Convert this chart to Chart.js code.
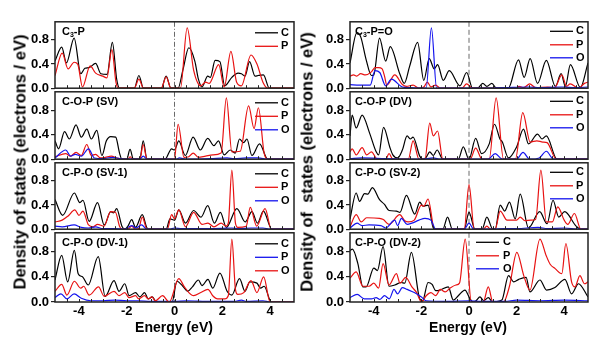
<!DOCTYPE html>
<html>
<head>
<meta charset="utf-8">
<script src="https://cdn.jsdelivr.net/npm/chart.js@4.4.1/dist/chart.umd.min.js"></script>
<style>
body { margin: 0; background: #fff; }
#wrap { position: relative; width: 600px; height: 351px; overflow: hidden; font-family: Arial, "Liberation Sans", sans-serif; }
#wrap canvas { position: absolute; }
.lab { position: absolute; font-weight: bold; color: #000; white-space: pre; z-index: 5; }
</style>
</head>
<body>
<div id="wrap">
  <div class="lab" style="left:20px;top:162px;font-size:16.5px;transform:translate(-50%,-50%) rotate(-90deg)">Density of states (electrons / eV)</div>
  <div class="lab" style="left:307px;top:162px;font-size:16.5px;transform:translate(-50%,-50%) rotate(-90deg)">Density of  states (electrons / eV)</div>
  <div class="lab" style="left:174px;top:327px;font-size:14px;transform:translate(-50%,-50%)">Energy (eV)</div>
  <div class="lab" style="left:468px;top:327px;font-size:14px;transform:translate(-50%,-50%)">Energy (eV)</div>
</div>
<script>
// energy (eV), DOS (electrons / eV) pairs
const X_TICKS = [-4, -2, 0, 2, 4];
const Y_TICKS = [0, 0.4, 0.8];

// C3-P
const L1_C = [[-5,0.45],[-4.72,0.68],[-4.52,0.42],[-4.2,0.83],[-3.92,0.24],[-3.75,0.33],[-3.58,0.34],[-3.3,0.41],[-3.08,0.24],[-2.82,0.23],[-2.6,0.76],[-2.42,0.15],[-2.3,0],[-1.68,0],[-1.49,0.21],[-1.3,0],[-0.55,0],[-0.35,0.2],[-0.15,0],[0.15,0],[0.35,0.3],[0.6,0.67],[0.85,0.45],[1.0,0.15],[1.15,0.02],[1.39,0.2],[1.5,0.18],[1.7,0.46],[1.9,0.44],[2.1,0.04],[2.4,0.18],[2.66,0.25],[2.8,0.24],[2.95,0.2],[3.14,0.44],[3.37,0.2],[3.5,0.21],[3.72,0.22],[3.97,0],[5,0]];
const L1_P = [[-5,0.21],[-4.7,0.58],[-4.45,0.32],[-4.2,0.43],[-4.05,0.4],[-3.85,0.02],[-3.53,0.37],[-3.3,0.25],[-3.0,0.2],[-2.83,0.17],[-2.62,0.64],[-2.45,0.1],[-2.35,0],[-1.68,0],[-1.49,0.15],[-1.3,0],[-0.55,0],[-0.35,0.19],[-0.15,0],[0.25,0],[0.53,1.0],[0.8,0.3],[1.1,0.04],[1.3,0.1],[1.45,0.08],[1.85,0.39],[2.08,0.02],[2.36,0.61],[2.6,0.1],[2.8,0.04],[3.2,0.55],[3.45,0.4],[3.7,0.1],[3.9,0],[5,0]];

// C-O-P (SV)
const L2_C = [[-5,0.3],[-4.85,0.17],[-4.6,0.45],[-4.4,0.33],[-4.12,0.56],[-3.9,0.36],[-3.67,0.49],[-3.48,0.33],[-3.25,0.47],[-3.04,0.06],[-2.85,0.3],[-2.67,0.37],[-2.46,0.36],[-2.3,0.1],[-2.2,0],[-2.0,0],[-1.86,0.16],[-1.72,0],[-1.45,0],[-1.31,0.3],[-1.15,0],[-0.4,0],[-0.12,0.17],[0.0,0.15],[0.18,0.3],[0.45,0.06],[0.78,0.36],[1.08,0.15],[1.39,0.34],[1.65,0.22],[1.84,0.3],[2.08,0.07],[2.33,0.15],[2.54,0.1],[2.72,0.33],[2.89,0.27],[3.03,0.33],[3.24,0.06],[3.56,0.25],[3.9,0],[5,0]];
const L2_P = [[-5,0.04],[-4.55,0.09],[-4.35,0.05],[-4.12,0.11],[-3.9,0.06],[-3.67,0.24],[-3.48,0.06],[-3.3,0.08],[-3.1,0.02],[-2.9,0.03],[-2.65,0.05],[-2.4,0.02],[-2.2,0],[-1.95,0],[-1.86,0.04],[-1.75,0],[-1.45,0],[-1.31,0.24],[-1.15,0],[0.0,0],[0.15,0.57],[0.4,0.03],[0.6,0.04],[0.78,0.1],[1.0,0.03],[1.3,0.05],[1.6,0.07],[1.95,0.1],[2.17,1.0],[2.4,0.12],[2.75,0.13],[3.1,0.87],[3.33,0.5],[3.51,0.84],[3.75,0.1],[3.9,0],[5,0]];
const L2_O = [[-5,0.02],[-4.55,0.15],[-4.35,0.05],[-4.15,0.08],[-3.9,0.05],[-3.6,0.17],[-3.35,0.02],[-3.0,0.01],[-2.6,0.03],[-2.3,0.01],[-2.0,0],[-1.45,0],[-1.31,0.05],[-1.15,0],[0.1,0],[0.2,0.02],[0.5,0],[1.5,0.01],[2.2,0.02],[2.5,0.01],[3.0,0.02],[3.5,0.02],[3.9,0],[5,0]];

// C-P-O (SV-1)
const L3_C = [[-5,0.49],[-4.68,0.23],[-4.19,0.6],[-3.96,0.44],[-3.83,0.48],[-3.57,0.13],[-3.22,0.44],[-2.94,0.07],[-2.67,0.29],[-2.55,0.27],[-2.42,0.34],[-2.2,0.05],[-2.08,0],[-1.95,0.05],[-1.79,0.16],[-1.63,0.03],[-1.35,0.24],[-1.15,0.02],[-1.05,0],[-0.35,0],[-0.19,0.17],[0,0.15],[0.18,0.32],[0.46,0.1],[0.8,0.31],[1.11,0.2],[1.39,0.39],[1.67,0.1],[1.92,0.28],[2.17,0.03],[2.61,0.34],[2.96,0.12],[3.24,0.29],[3.47,0.1],[3.72,0.3],[4.07,0],[5,0]];
const L3_P = [[-5,0.12],[-4.7,0.15],[-4.45,0.22],[-4.17,0.32],[-4.0,0.23],[-3.83,0.3],[-3.6,0.07],[-3.4,0.04],[-3.22,0.08],[-2.95,0.05],[-2.67,0.29],[-2.47,0.28],[-2.3,0.05],[-2.2,0],[-1.95,0],[-1.79,0.05],[-1.65,0],[-1.5,0.01],[-1.35,0.2],[-1.15,0],[-0.3,0],[-0.12,0.24],[0.0,0.17],[0.18,0.32],[0.46,0.04],[0.8,0.28],[1.15,0.08],[1.4,0.1],[1.65,0.04],[1.95,0.1],[2.15,0.05],[2.25,0.1],[2.4,0.98],[2.55,0.1],[2.65,0.03],[3.0,0.05],[3.17,0.36],[3.44,0.05],[3.79,0.34],[4.05,0],[5,0]];
const L3_O = [[-5,0.05],[-4.7,0.04],[-4.2,0.07],[-3.9,0.03],[-3.6,0.02],[-3.3,0.04],[-3.0,0.01],[-2.5,0.01],[-2.1,0],[-1.79,0.06],[-1.62,0.02],[-1.38,0.07],[-1.15,0],[-0.2,0],[0,0.02],[0.3,0.01],[1.0,0.01],[1.5,0.01],[2.4,0.02],[2.7,0.01],[3.2,0.02],[3.7,0.02],[4.0,0],[5,0]];

// C-P-O (DV-1)
const L4_C = [[-5,0.35],[-4.72,0.74],[-4.47,0.32],[-4.19,0.82],[-4.03,0.45],[-3.85,0.4],[-3.61,0.27],[-3.19,0.72],[-2.9,0.09],[-2.53,0.34],[-2.32,0.17],[-2.08,0.29],[-1.9,0.1],[-1.63,0.15],[-1.45,0.08],[-1.25,0.15],[-1.1,0.05],[-0.93,0.08],[-0.75,0],[-0.1,0],[0.1,0.33],[0.35,0.25],[0.55,0.17],[0.75,0.24],[1.0,0.35],[1.15,0.26],[1.4,0.36],[1.6,0.22],[1.9,0.46],[2.2,0.17],[2.4,0.11],[2.72,0.37],[2.95,0.17],[3.15,0.32],[3.45,0.3],[3.6,0.22],[3.75,0.25],[4.05,0],[5,0]];
const L4_P = [[-5,0.07],[-4.75,0.13],[-4.5,0.05],[-4.2,0.13],[-3.9,0.06],[-3.5,0.02],[-3.0,0.02],[-2.5,0.03],[-2.0,0.02],[-1.5,0.02],[-1.0,0.01],[-0.5,0.01],[0,0.01],[0.5,0.02],[1.5,0.01],[2.5,0.01],[2.8,0.03],[3.0,0.01],[3.7,0.02],[4.0,0],[5,0]];
const L4_O = [[-5,0.17],[-4.72,0.28],[-4.5,0.11],[-4.19,0.33],[-3.92,0.22],[-3.8,0.25],[-3.57,0.11],[-3.18,0.24],[-2.94,0.09],[-2.53,0.17],[-2.32,0.1],[-2.08,0.15],[-1.9,0.07],[-1.63,0.1],[-1.5,0.05],[-1.25,0.1],[-1.1,0.05],[-0.95,0.08],[-0.8,0.02],[-0.5,0.1],[-0.22,0],[0.18,0.37],[0.4,0.25],[0.6,0.15],[0.8,0.1],[1.1,0.15],[1.4,0.2],[1.6,0.1],[1.8,0.05],[2.1,0.05],[2.25,0.1],[2.4,1.0],[2.55,0.2],[2.65,0.12],[2.9,0.15],[3.2,0.34],[3.45,0.15],[3.73,0.4],[4.0,0],[5,0]];

// C3-P=O
const R1_C = [[-5,0.42],[-4.71,0.92],[-4.55,0.85],[-4.32,0.47],[-4.1,0.21],[-4.0,0.22],[-3.76,0.83],[-3.5,0.45],[-3.31,0.69],[-2.91,0.24],[-2.72,0.08],[-2.49,0.37],[-2.16,0.76],[-1.9,0.13],[-1.67,0.49],[-1.46,0.32],[-1.32,0.39],[-1.08,0.13],[-0.83,0.29],[-0.38,0.04],[-0.1,0.26],[0.15,0],[0.35,0],[0.58,0.08],[0.75,0.03],[0.96,0.08],[1.15,0],[1.65,0],[2.08,0.47],[2.32,0.18],[2.57,0.49],[2.88,0.08],[3.25,0.46],[3.63,0.03],[3.87,0.24],[4.05,0.03],[4.26,0.39],[4.68,0.01],[5,0.42]];
const R1_P = [[-5,0.2],[-4.85,0.22],[-4.72,0.2],[-4.55,0.24],[-4.35,0.22],[-4.1,0.27],[-3.95,0.34],[-3.8,0.34],[-3.65,0.32],[-3.55,0.2],[-3.45,0.05],[-3.12,0.22],[-2.8,0.06],[-2.63,0.03],[-2.35,0.05],[-2.1,0],[-1.9,0.02],[-1.75,0.1],[-1.6,0.02],[-1.4,0.05],[-1.2,0],[-0.3,0],[-0.1,0.07],[0.15,0],[2.0,0],[2.1,0.03],[2.3,0.01],[2.55,0.07],[2.8,0.01],[3.3,0.02],[3.6,0.01],[3.9,0.22],[4.1,0.03],[4.25,0.07],[4.6,0],[4.85,0.08],[5,0.1]];
const R1_O = [[-5,0.06],[-4.6,0.05],[-4.15,0.05],[-3.95,0.29],[-3.75,0.26],[-3.5,0.04],[-3.26,0.15],[-2.8,0.02],[-2.5,0.01],[-2.0,0],[-1.8,0],[-1.58,1.0],[-1.36,0],[0.5,0],[1.5,0.01],[2.5,0.02],[3.0,0.01],[3.9,0.02],[4.5,0.01],[5,0.02]];

// C-O-P (DV)
const R2_C = [[-5,0.38],[-4.91,0.72],[-4.74,0.51],[-4.49,0.72],[-4.18,0.43],[-3.9,0.12],[-3.8,0.07],[-3.59,0.52],[-3.33,0.2],[-3.2,0.07],[-3.0,0.02],[-2.8,0.15],[-2.6,0.38],[-2.47,0.33],[-2.35,0.36],[-2.07,0.05],[-1.95,0],[-1.8,0.03],[-1.65,0.12],[-1.5,0.06],[-1.34,0.15],[-1.1,0],[-0.45,0],[-0.24,0.2],[0.0,0],[0.28,0.34],[0.53,0.09],[0.85,0.25],[1.07,0.57],[1.3,0.33],[1.4,0.28],[1.66,0.02],[2.0,0.2],[2.29,0.49],[2.5,0.25],[2.88,0.41],[3.07,0.33],[3.25,0.38],[3.7,0],[5,0]];
const R2_P = [[-5,0.12],[-4.91,0.17],[-4.74,0.07],[-4.49,0.19],[-4.3,0.07],[-4.1,0.12],[-3.85,0],[-3.5,0],[-3.36,0.09],[-3.2,0],[-2.55,0],[-2.35,0.3],[-2.1,0],[-1.85,0],[-1.65,0.59],[-1.5,0.38],[-1.32,0.46],[-1.1,0],[0.05,0],[0.28,0.18],[0.55,0],[0.85,0],[1.14,1.0],[1.45,0],[1.95,0],[2.26,0.76],[2.57,0.28],[2.85,0.3],[3.1,0.28],[3.28,0.27],[3.67,0],[5,0]];
const R2_O = [[-5,0.01],[-4.5,0.02],[-3.5,0.01],[-2,0],[-1.5,0.02],[-1.2,0],[0.8,0],[1.1,0.09],[1.4,0],[2.0,0],[2.27,0.11],[2.55,0],[2.95,0.02],[3.25,0.13],[3.55,0],[5,0]];

// C-P-O (SV-2)
const R3_C = [[-5,0.17],[-4.74,0.6],[-4.6,0.46],[-4.39,0.59],[-4.25,0.58],[-4.06,0.69],[-3.76,0.49],[-3.55,0.41],[-3.36,0.31],[-3.05,0.3],[-2.9,0.28],[-2.63,0.56],[-2.28,0.25],[-2.07,0.45],[-1.93,0.38],[-1.72,0.4],[-1.5,0.02],[-1.4,0],[-1.1,0],[-0.9,0.2],[-0.7,0],[-0.2,0],[0,0.28],[0.25,0],[0.55,0],[0.75,0.2],[1.0,0],[1.1,0],[1.31,0.4],[1.5,0.3],[1.7,0.45],[1.94,0.17],[2.15,0.58],[2.5,0.02],[2.97,0.29],[3.28,0.09],[3.53,0.48],[3.77,0.2],[4.02,0.29],[4.5,0.05],[4.7,0],[5,0]];
const R3_P = [[-5,0.04],[-4.74,0.24],[-4.53,0.12],[-4.3,0.19],[-3.76,0.18],[-3.6,0.16],[-3.36,0.08],[-2.91,0.24],[-2.7,0.14],[-2.55,0.12],[-2.3,0.15],[-2.0,0.4],[-1.9,0.38],[-1.72,0.5],[-1.45,0],[-0.2,0],[0,0.74],[0.22,0],[0.6,0],[0.75,0.05],[0.9,0],[1.1,0],[1.31,0.3],[1.6,0.15],[2.0,0.15],[2.15,0.2],[2.35,0.14],[2.6,0.15],[2.8,0.16],[3.02,0.98],[3.25,0.12],[3.5,0.12],[3.73,0.37],[4.0,0.15],[4.15,0.08],[4.43,0.26],[4.7,0],[5,0]];
const R3_O = [[-5,0.02],[-4.7,0.1],[-4.5,0.06],[-4.2,0.07],[-3.7,0.06],[-3.5,0.02],[-3.12,0.15],[-3.0,0.06],[-2.84,0.18],[-2.6,0.08],[-2.4,0.1],[-2.1,0.15],[-1.85,0.18],[-1.6,0.15],[-1.4,0],[-0.2,0],[0,0.1],[0.2,0],[1.0,0],[1.5,0.01],[2.0,0.01],[2.9,0.03],[3.3,0.01],[4.0,0.02],[4.6,0],[5,0]];

// C-P-O (DV-2)
const R4_C = [[-5,0.82],[-4.9,0.84],[-4.67,0.61],[-4.46,0.24],[-4.32,0.24],[-4.0,0.54],[-3.85,0.5],[-3.61,0.88],[-3.36,0.25],[-3.12,0.27],[-2.85,0.31],[-2.7,0.3],[-2.42,0.79],[-2.07,0.05],[-1.95,0.02],[-1.72,0.31],[-1.55,0.28],[-1.4,0.18],[-1.22,0.19],[-0.87,0.24],[-0.66,0.03],[-0.45,0.1],[-0.17,0.19],[0.04,0.05],[0.17,0],[0.3,0.02],[0.46,0.08],[0.62,0.02],[0.81,0.07],[1.0,0],[1.38,0.03],[1.66,0.42],[1.88,0.32],[2.09,0.36],[2.4,0.39],[2.56,0.16],[2.98,0.35],[3.26,0.19],[3.61,0.23],[4.03,0.36],[4.31,0.13],[4.6,0.29],[5,0.08]];
const R4_P = [[-5,0.38],[-4.74,0.48],[-4.46,0.25],[-4.2,0.25],[-4.0,0.3],[-3.8,0.22],[-3.61,0.61],[-3.36,0.27],[-3.05,0.45],[-2.9,0.3],[-2.66,0.39],[-2.4,0.24],[-2.2,0.15],[-2.0,0],[-1.8,0.1],[-1.6,0.15],[-1.4,0.1],[-1.2,0.2],[-1.0,0.16],[-0.8,0.22],[-0.55,0.27],[-0.4,0.3],[-0.16,1.0],[0.1,0],[0.6,0],[0.81,0.24],[1.0,0],[1.45,0],[1.7,0.25],[2.01,0.79],[2.3,0.42],[2.56,0.19],[2.98,1.0],[3.24,0.74],[3.41,0.6],[3.62,0.53],[3.9,0.45],[4.07,0.93],[4.31,0.32],[4.45,0.24],[4.66,0.42],[4.85,0.29],[5,0.32]];
const R4_O = [[-5,0.07],[-4.7,0.12],[-4.4,0.05],[-4.1,0.05],[-3.9,0.07],[-3.75,0.04],[-3.55,0.1],[-3.35,0.05],[-3.15,0.2],[-3.0,0.13],[-2.8,0.23],[-2.6,0.2],[-2.3,0.15],[-2.0,0.08],[-1.8,0.02],[-1,0.01],[0,0.02],[0.5,0.01],[1.5,0.01],[2.0,0.03],[3,0.02],[4,0.03],[5,0.02]];

const BLACK = '#000000', RED = 'rgb(232,18,18)', BLUE = 'rgb(20,20,238)';

// col, row, title [before sub, sub, after sub], legend anchor
const panels = [
  {col: 0, row: 0, title: ['C', '3', '-P'], series: [['C', L1_C, BLACK], ['P', L1_P, RED]]},
  {col: 0, row: 1, title: ['C-O-P (SV)'], series: [['C', L2_C, BLACK], ['P', L2_P, RED], ['O', L2_O, BLUE]]},
  {col: 0, row: 2, title: ['C-P-O (SV-1)'], series: [['C', L3_C, BLACK], ['P', L3_P, RED], ['O', L3_O, BLUE]]},
  {col: 0, row: 3, title: ['C-P-O (DV-1)'], series: [['C', L4_C, BLACK], ['P', L4_P, BLUE], ['O', L4_O, RED]]},
  {col: 1, row: 0, title: ['C', '3', '-P=O'], series: [['C', R1_C, BLACK], ['P', R1_P, RED], ['O', R1_O, BLUE]]},
  {col: 1, row: 1, title: ['C-O-P (DV)'], series: [['C', R2_C, BLACK], ['P', R2_P, RED], ['O', R2_O, BLUE]]},
  {col: 1, row: 2, title: ['C-P-O (SV-2)'], series: [['C', R3_C, BLACK], ['P', R3_P, RED], ['O', R3_O, BLUE]]},
  {col: 1, row: 3, title: ['C-P-O (DV-2)'], series: [['C', R4_C, BLACK], ['P', R4_P, RED], ['O', R4_O, BLUE]], legendLeft: true}
];

const tops = [20, 90, 161, 231];
const bottoms = [90, 161, 231, 302];
const colX = [0, 300];
const yAxisW = [55, 50];
const padR = [6, 12];
const fontTick = {family: 'Arial', size: 13, weight: 'bold'};

function framePlugin(p) {
  return {
    id: 'frame',
    beforeDatasetsDraw(chart) {
      const {ctx, chartArea: a} = chart;
      const x0 = chart.scales.x.getPixelForValue(0);
      ctx.save();
      ctx.strokeStyle = '#6a6a6a';
      ctx.lineWidth = 1;
      ctx.setLineDash(p.col === 0 ? [5, 2, 1, 2] : [5, 3]);
      ctx.beginPath();
      ctx.moveTo(x0, a.top);
      ctx.lineTo(x0, a.bottom);
      ctx.stroke();
      ctx.restore();
    },
    afterDatasetsDraw(chart) {
      const {ctx, chartArea: a} = chart;
      const xs = chart.scales.x;
      ctx.save();
      // frame
      ctx.strokeStyle = '#222';
      ctx.lineWidth = 1.5;
      ctx.strokeRect(a.left, a.top, a.right - a.left, a.bottom - a.top);
      // inward minor ticks along the bottom
      ctx.lineWidth = 1;
      ctx.beginPath();
      for (let e = -4.5; e <= 4.5; e += 0.5) {
        const x = Math.round(xs.getPixelForValue(e)) + 0.5;
        ctx.moveTo(x, a.bottom);
        ctx.lineTo(x, a.bottom - 3);
      }
      ctx.stroke();
      // panel title
      ctx.fillStyle = '#000';
      ctx.textBaseline = 'middle';
      let tx = a.left + (p.col === 0 ? 7 : 5);
      const ty = a.top + 10;
      ctx.font = 'bold 11px Arial';
      ctx.fillText(p.title[0], tx, ty);
      if (p.title.length > 1) {
        tx += ctx.measureText(p.title[0]).width;
        ctx.font = 'bold 7px Arial';
        ctx.fillText(p.title[1], tx, ty + 3);
        tx += ctx.measureText(p.title[1]).width;
        ctx.font = 'bold 11px Arial';
        ctx.fillText(p.title[2], tx, ty);
      }
      // legend
      const rows = p.col === 0 ? [11, 24.5, 38] : [9.5, 23, 36];
      const lx = p.legendLeft ? a.left + 126 : a.right - (p.col === 0 ? 39 : 38);
      ctx.font = 'bold 11px Arial';
      p.series.forEach((s, i) => {
        const y = a.top + rows[i];
        ctx.strokeStyle = s[2];
        ctx.lineWidth = 1.3;
        ctx.beginPath();
        ctx.moveTo(lx, y);
        ctx.lineTo(lx + 23, y);
        ctx.stroke();
        ctx.fillStyle = '#000';
        ctx.fillText(s[0], lx + (p.legendLeft ? 27 : 26), y);
      });
      ctx.restore();
    }
  };
}

function makePanel(p) {
  const wrap = document.getElementById('wrap');
  const bottom = p.row === 3;
  const h = bottoms[p.row] - tops[p.row];
  const cv = document.createElement('canvas');
  cv.width = 300;
  cv.height = h + 8 + (bottom ? 22 : 8);
  cv.style.left = colX[p.col] + 'px';
  cv.style.top = (tops[p.row] - 8) + 'px';
  wrap.insertBefore(cv, wrap.firstChild);

  const n = p.series.length;
  new Chart(cv, {
    type: 'line',
    data: {
      datasets: p.series.map((s, i) => ({
        label: s[0],
        data: s[1].map(pt => ({x: pt[0], y: pt[1]})),
        borderColor: s[2],
        borderWidth: 1.2,
        pointRadius: 0,
        fill: false,
        cubicInterpolationMode: 'monotone',
        order: n - i
      }))
    },
    options: {
      responsive: false,
      animation: false,
      devicePixelRatio: 1,
      layout: {padding: {left: 0, right: padR[p.col], top: 8, bottom: bottom ? 0 : 8}},
      plugins: {legend: {display: false}, tooltip: {enabled: false}},
      scales: {
        x: {
          type: 'linear', min: -5, max: 5,
          display: bottom,
          grid: {display: false, drawTicks: false},
          border: {display: false},
          afterBuildTicks: s => { s.ticks = X_TICKS.map(v => ({value: v})); },
          afterFit: s => { s.height = bottom ? 22 : 0; },
          ticks: {font: fontTick, color: '#000', padding: 2, callback: v => String(v)}
        },
        y: {
          min: 0, max: 1.1,
          grid: {drawOnChartArea: false, drawTicks: true, tickLength: 4, color: '#222', lineWidth: 1.2},
          border: {display: false},
          afterBuildTicks: s => { s.ticks = Y_TICKS.map(v => ({value: v})); },
          afterFit: s => { s.width = yAxisW[p.col]; },
          ticks: {font: fontTick, color: '#000', padding: 2, callback: v => v.toFixed(1)}
        }
      }
    },
    plugins: [framePlugin(p)]
  });
}

panels.forEach(makePanel);
</script>
</body>
</html>
